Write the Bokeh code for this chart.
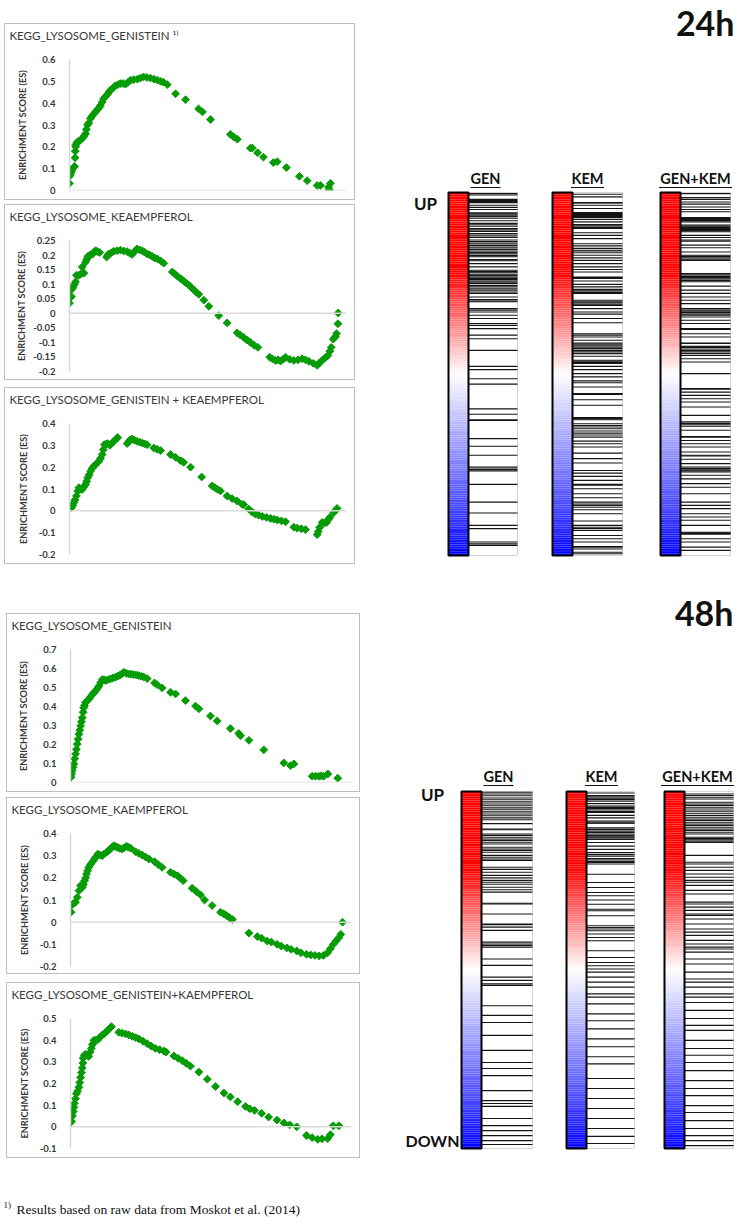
from bokeh.plotting import figure
from bokeh.layouts import column, row
from bokeh.models import Range1d, Span, FixedTicker, NumeralTickFormatter, Spacer
from bokeh.core.properties import value
from bokeh.embed import file_html
from bokeh.resources import INLINE

# ---------------- Enrichment-score curves: (rank in list %, ES) ----------------
gen24 = [(0, 0.033), (0.2, 0.068), (0.5, 0.08), (0.8, 0.09), (1.1, 0.1), (1.5, 0.105), (1.8, 0.11),
         (2.0, 0.15), (2.1, 0.18), (2.2, 0.2), (2.3, 0.21), (2.7, 0.22), (3.2, 0.225), (3.9, 0.23),
         (4.7, 0.24), (5.3, 0.25), (5.8, 0.26), (6.1, 0.28), (6.5, 0.3), (7.0, 0.31), (7.6, 0.33),
         (8.1, 0.34), (8.7, 0.35), (9.4, 0.36), (10.1, 0.37), (10.7, 0.38), (11.2, 0.39), (11.8, 0.405),
         (12.3, 0.42), (13.0, 0.43), (13.7, 0.44), (14.2, 0.45), (14.8, 0.46), (15.7, 0.47), (16.6, 0.48),
         (17.5, 0.485), (18.4, 0.49), (19.3, 0.49), (20.2, 0.487), (21.1, 0.495), (22.0, 0.505),
         (23.2, 0.508), (24.5, 0.51), (25.6, 0.515), (26.7, 0.52), (27.9, 0.518), (29.2, 0.515),
         (30.5, 0.51), (31.8, 0.505), (32.9, 0.5), (33.9, 0.496), (35.3, 0.485), (38.3, 0.443),
         (41.9, 0.416), (46.6, 0.374), (48.0, 0.36), (50.9, 0.325), (58.1, 0.257), (59.3, 0.245),
         (60.6, 0.235), (65.3, 0.194), (66.0, 0.195), (67.9, 0.173), (70.0, 0.153), (73.6, 0.128),
         (75.0, 0.132), (78.3, 0.105), (83.0, 0.065), (85.8, 0.045), (89.4, 0.023), (90.6, 0.023),
         (93.5, 0.015), (94.2, 0.033), (93.8, 0.004)]

kem24 = [(0, 0.035), (0.4, 0.08), (0.7, 0.057), (1.0, 0.085), (1.3, 0.091), (1.8, 0.1), (2.2, 0.108),
         (2.5, 0.131), (3.2, 0.13), (4.0, 0.134), (4.6, 0.159), (5.2, 0.138), (5.8, 0.176), (6.2, 0.185),
         (6.6, 0.195), (7.4, 0.2), (8.2, 0.202), (8.8, 0.21), (9.4, 0.215), (10.1, 0.212), (10.9, 0.209),
         (13.4, 0.193), (13.8, 0.2), (14.2, 0.204), (15.1, 0.208), (16.0, 0.213), (17.2, 0.215),
         (18.4, 0.217), (19.6, 0.214), (20.8, 0.212), (21.7, 0.207), (22.6, 0.202), (23.5, 0.212),
         (24.4, 0.221), (25.3, 0.218), (26.2, 0.215), (27.1, 0.21), (28.0, 0.204), (29.0, 0.2),
         (29.9, 0.195), (30.8, 0.19), (31.7, 0.187), (32.9, 0.18), (34.0, 0.172), (37.1, 0.142),
         (38.0, 0.135), (39.0, 0.127), (40.1, 0.119), (41.1, 0.112), (42.1, 0.104), (43.1, 0.097),
         (44.0, 0.088), (44.9, 0.08), (45.8, 0.072), (46.7, 0.065), (48.5, 0.045), (50.3, 0.024),
         (53.9, -0.008), (56.9, -0.033), (60.5, -0.067), (61.7, -0.075), (62.9, -0.083), (64.1, -0.092),
         (65.3, -0.1), (66.7, -0.11), (68.0, -0.117), (72.3, -0.151), (73.3, -0.157), (74.4, -0.162),
         (75.3, -0.16), (76.2, -0.164), (77.1, -0.158), (78.0, -0.151), (79.5, -0.158), (81.0, -0.162),
         (82.5, -0.16), (84.0, -0.156), (85.2, -0.16), (86.4, -0.165), (88.0, -0.172), (89.4, -0.179),
         (90.3, -0.17), (91.2, -0.162), (92.3, -0.153), (93.3, -0.145), (94.0, -0.13), (94.5, -0.117),
         (95.2, -0.089), (96.0, -0.08), (96.4, -0.07), (96.9, -0.036), (97.0, 0.001)]

genkem24 = [(0.7, 0.015), (1.2, 0.025), (1.6, 0.038), (2.0, 0.05), (2.5, 0.068), (3.0, 0.09), (3.4, 0.106),
            (4.0, 0.1), (4.6, 0.098), (5.2, 0.11), (5.8, 0.121), (6.2, 0.135), (6.6, 0.152), (7.1, 0.165),
            (7.6, 0.182), (8.2, 0.195), (8.8, 0.205), (9.7, 0.215), (10.6, 0.227), (11.2, 0.24),
            (11.8, 0.258), (12.2, 0.28), (12.6, 0.303), (13.2, 0.306), (13.8, 0.308), (14.6, 0.3),
            (15.4, 0.311), (16.0, 0.318), (16.6, 0.326), (17.0, 0.33), (17.4, 0.336), (20.8, 0.308),
            (21.5, 0.318), (22.0, 0.326), (22.6, 0.329), (23.5, 0.323), (24.4, 0.318), (25.3, 0.315),
            (26.2, 0.311), (27.1, 0.307), (28.0, 0.303), (30.4, 0.288), (31.6, 0.282), (32.9, 0.276),
            (36.5, 0.258), (38.3, 0.245), (40.1, 0.23), (41.2, 0.222), (43.7, 0.2), (47.7, 0.155),
            (51.5, 0.114), (52.5, 0.106), (53.5, 0.098), (54.5, 0.091), (56.9, 0.068), (58.7, 0.056),
            (60.5, 0.045), (62.3, 0.03), (62.9, 0.028), (64.7, 0.008), (65.9, -0.005), (67.1, -0.015),
            (68.3, -0.02), (69.6, -0.026), (71.1, -0.03), (72.6, -0.035), (73.8, -0.038), (75.0, -0.042),
            (76.5, -0.046), (78.0, -0.05), (81.0, -0.075), (82.2, -0.079), (83.7, -0.082), (85.2, -0.086),
            (89.4, -0.109), (89.8, -0.095), (90.3, -0.076), (91.2, -0.053), (92.0, -0.056), (92.8, -0.053),
            (93.4, -0.04), (94.0, -0.03), (95.4, -0.008), (96.0, 0.002), (96.6, 0.011)]

gen48 = [(0.2, 0.028), (0.4, 0.045), (0.6, 0.063), (0.9, 0.08), (1.2, 0.098), (1.5, 0.125), (1.8, 0.15),
         (2.1, 0.175), (2.4, 0.202), (2.7, 0.228), (3.0, 0.254), (3.3, 0.276), (3.6, 0.298), (3.9, 0.32),
         (4.2, 0.341), (4.5, 0.37), (4.7, 0.393), (5.0, 0.405), (5.3, 0.42), (5.9, 0.43), (6.5, 0.437),
         (7.1, 0.45), (7.7, 0.463), (8.3, 0.472), (8.9, 0.481), (9.5, 0.494), (10.1, 0.507), (10.7, 0.525),
         (11.3, 0.542), (11.9, 0.54), (12.5, 0.537), (13.3, 0.541), (14.2, 0.545), (15.1, 0.55),
         (16.0, 0.554), (16.8, 0.56), (17.5, 0.564), (18.3, 0.572), (19.0, 0.58), (19.9, 0.575),
         (20.7, 0.571), (21.6, 0.57), (22.5, 0.568), (23.4, 0.566), (24.3, 0.563), (25.2, 0.559),
         (26.1, 0.555), (27.3, 0.547), (29.9, 0.524), (30.8, 0.515), (32.6, 0.498), (35.6, 0.475),
         (37.4, 0.466), (40.9, 0.431), (44.5, 0.402), (45.7, 0.388), (49.8, 0.35), (52.2, 0.324),
         (56.9, 0.284), (59.9, 0.258), (60.5, 0.246), (63.5, 0.222), (68.8, 0.172), (75.9, 0.103),
         (78.3, 0.089), (79.5, 0.098), (86.0, 0.033), (87.2, 0.033), (88.4, 0.033), (89.2, 0.035),
         (90.1, 0.033), (91.6, 0.045), (95.1, 0.023)]

kem48 = [(0.2, 0.045), (0.6, 0.079), (1.2, 0.085), (1.8, 0.09), (2.4, 0.112), (3.0, 0.142), (3.6, 0.165),
         (4.2, 0.157), (4.6, 0.17), (5.0, 0.187), (5.4, 0.2), (5.7, 0.217), (6.1, 0.232), (6.5, 0.247),
         (7.1, 0.26), (7.7, 0.27), (8.3, 0.281), (8.9, 0.292), (9.7, 0.307), (10.5, 0.303), (11.3, 0.3),
         (12.0, 0.308), (12.8, 0.315), (13.5, 0.322), (14.2, 0.33), (14.8, 0.338), (15.4, 0.345),
         (16.1, 0.341), (16.8, 0.337), (17.5, 0.333), (18.3, 0.33), (19.1, 0.336), (19.9, 0.342),
         (20.6, 0.338), (21.4, 0.334), (23.1, 0.318), (24.3, 0.31), (25.5, 0.303), (26.7, 0.294),
         (27.9, 0.285), (29.9, 0.273), (31.2, 0.26), (32.6, 0.247), (35.6, 0.225), (36.8, 0.217),
         (38.0, 0.21), (39.0, 0.2), (40.1, 0.187), (43.3, 0.153), (44.8, 0.138), (46.3, 0.123),
         (47.7, 0.1), (50.4, 0.075), (53.4, 0.045), (54.5, 0.038), (55.5, 0.03), (56.6, 0.02),
         (57.6, 0.012), (63.5, -0.049), (66.5, -0.065), (68.0, -0.072), (70.0, -0.085), (71.5, -0.09),
         (73.5, -0.1), (75.0, -0.108), (77.0, -0.116), (78.5, -0.123), (80.5, -0.13), (82.0, -0.138),
         (84.0, -0.145), (85.5, -0.148), (87.0, -0.15), (88.5, -0.152), (90.0, -0.15), (91.5, -0.138),
         (92.5, -0.12), (93.5, -0.1), (94.5, -0.085), (95.5, -0.07), (96.2, -0.055), (96.8, 0.0)]

genkem48 = [(0.4, 0.024), (0.7, 0.05), (1.0, 0.071), (1.2, 0.09), (1.4, 0.109), (1.8, 0.13), (2.1, 0.153),
            (2.5, 0.165), (3.0, 0.183), (3.3, 0.205), (3.6, 0.228), (3.9, 0.25), (4.2, 0.272), (4.4, 0.295),
            (4.5, 0.317), (4.9, 0.33), (5.3, 0.335), (5.9, 0.33), (6.5, 0.325), (7.0, 0.345), (7.4, 0.362),
            (7.8, 0.38), (8.3, 0.399), (9.0, 0.4), (9.7, 0.402), (10.5, 0.413), (11.3, 0.424), (12.0, 0.43),
            (12.8, 0.439), (13.5, 0.448), (14.2, 0.458), (14.6, 0.462), (17.2, 0.436), (18.4, 0.432),
            (19.6, 0.429), (20.8, 0.424), (22.0, 0.418), (23.2, 0.412), (24.3, 0.406), (25.8, 0.395),
            (27.3, 0.384), (28.7, 0.373), (30.2, 0.362), (31.7, 0.356), (33.2, 0.35), (34.0, 0.345),
            (36.8, 0.327), (38.3, 0.316), (39.8, 0.305), (41.2, 0.293), (42.7, 0.28), (45.7, 0.253),
            (48.7, 0.22), (51.6, 0.186), (54.6, 0.156), (56.9, 0.138), (59.5, 0.116), (62.3, 0.094),
            (63.8, 0.083), (65.5, 0.076), (68.0, 0.0625), (70.5, 0.045), (73.5, 0.031), (76.0, 0.018),
            (78.0, 0.009), (80.5, 0.0), (84.0, -0.04), (86.0, -0.05), (88.0, -0.058), (89.5, -0.055),
            (91.5, -0.054), (92.5, -0.036), (93.5, 0.005), (95.5, 0.005)]

ticks_gen24 = [0, 0.1, 0.2, 0.3, 0.4, 0.5, 0.6]
ticks_kem24 = [-0.2, -0.15, -0.1, -0.05, 0, 0.05, 0.1, 0.15, 0.2, 0.25]
ticks_genkem24 = [-0.2, -0.1, 0, 0.1, 0.2, 0.3, 0.4]
ticks_gen48 = [0, 0.1, 0.2, 0.3, 0.4, 0.5, 0.6, 0.7]
ticks_kem48 = [-0.2, -0.1, 0, 0.1, 0.2, 0.3, 0.4]
ticks_genkem48 = [-0.1, 0, 0.1, 0.2, 0.3, 0.4, 0.5]

titles_24 = ["KEGG_LYSOSOME_GENISTEIN  \u00b9\u207e", "KEGG_LYSOSOME_KEAEMPFEROL",
             "KEGG_LYSOSOME_GENISTEIN  + KEAEMPFEROL"]
titles_48 = ["KEGG_LYSOSOME_GENISTEIN", "KEGG_LYSOSOME_KAEMPFEROL",
             "KEGG_LYSOSOME_GENISTEIN+KAEMPFEROL"]
note_mark = "1)"

# ---------------- Barcode hits: position of lysosomal genes in ranked list (%; 0 = UP) --------
hits_gen24 = [0.3, 0.7, 1.9, 2.2, 2.5, 2.8, 3.5, 4.1, 4.7, 5.6, 5.9, 6.2, 6.5, 6.7, 7.1, 7.8, 8.5, 8.9, 9.3,
              9.9, 10.3, 10.7, 11.3, 11.7, 12.0, 12.4, 13.1, 13.5, 13.9, 14.2, 14.6, 15.0, 15.3, 15.7, 16.1,
              16.5, 16.9, 17.4, 17.7, 18.5, 18.8, 19.6, 20.5, 21.4, 21.8, 22.1, 22.5, 22.9, 23.3, 23.7, 24.0,
              24.4, 24.7, 25.1, 25.6, 26.0, 26.5, 26.9, 27.4, 27.8, 28.8, 29.5, 29.9, 30.1, 32.0, 32.4, 32.9,
              33.8, 34.7, 36.1, 36.6, 37.5, 39.3, 40.3, 43.5, 47.9, 48.8, 51.3, 52.8, 59.6, 61.1, 62.6, 62.8,
              67.8, 69.9, 72.4, 75.6, 75.9, 76.3, 76.7, 80.4, 85.3, 88.3, 91.7, 92.6, 96.3, 96.8, 97.2]
hits_kem24 = [0.5, 1.2, 2.8, 2.9, 3.5, 4.4, 5.5, 5.8, 6.1, 6.3, 6.6, 6.9, 7.4, 8.1, 8.8, 9.2, 9.6, 9.9, 11.1,
              11.8, 12.7, 14.1, 14.7, 15.4, 15.9, 16.1, 16.6, 17.3, 18.0, 18.7, 19.6, 20.5, 21.2, 21.9, 23.3,
              23.4, 23.7, 24.4, 25.3, 26.0, 26.7, 27.1, 27.5, 27.8, 29.7, 30.1, 30.4, 30.8, 31.1, 32.0, 32.9,
              33.5, 34.7, 35.9, 38.9, 39.3, 39.8, 40.7, 41.5, 41.8, 42.2, 42.6, 43.0, 43.5, 43.9, 44.4, 45.1,
              46.2, 46.5, 46.8, 47.1, 47.9, 48.8, 49.9, 50.8, 51.9, 52.4, 53.6, 55.4, 55.6, 57.1, 58.6, 62.0,
              62.3, 62.6, 63.7, 64.2, 64.6, 65.1, 65.7, 66.3, 66.8, 67.4, 68.5, 69.2, 70.1, 71.8, 73.3, 74.5,
              76.6, 77.3, 78.2, 79.3, 80.4, 80.6, 81.6, 83.0, 84.1, 85.3, 85.8, 86.2, 86.7, 87.4, 88.5, 90.5,
              91.7, 92.2, 92.6, 93.1, 94.5, 95.4, 96.3, 97.5, 97.7, 98.2, 99.1, 99.5]
hits_genkem24 = [0.3, 1.4, 1.9, 2.6, 3.2, 4.0, 4.7, 5.3, 6.9, 7.2, 7.4, 7.7, 8.1, 9.0, 9.3, 9.6, 9.9, 10.2,
                 10.5, 10.8, 11.8, 12.4, 13.1, 13.4, 14.5, 15.2, 16.4, 17.3, 17.6, 18.0, 18.4, 18.7, 22.3,
                 22.7, 23.1, 23.4, 23.8, 24.2, 24.6, 25.8, 26.9, 27.8, 28.8, 29.7, 30.6, 32.0, 32.4, 32.7,
                 33.1, 33.5, 33.8, 34.3, 35.2, 36.1, 37.5, 37.7, 38.9, 39.8, 41.5, 41.6, 42.4, 42.7, 43.1,
                 43.5, 43.9, 44.4, 44.9, 45.8, 46.7, 49.9, 54.0, 54.2, 55.0, 55.9, 56.8, 57.7, 59.1, 61.4,
                 63.2, 63.6, 64.0, 64.4, 65.5, 67.2, 67.4, 68.3, 69.2, 70.1, 71.5, 72.4, 72.6, 73.5, 74.7,
                 75.6, 76.0, 76.4, 76.7, 77.0, 77.9, 78.9, 80.2, 81.2, 83.0, 85.3, 86.2, 87.1, 88.5, 89.4,
                 90.3, 91.7, 93.6, 93.8, 93.9, 94.1, 95.4, 96.3, 97.7, 98.6]
hits_gen48 = [0.2, 0.7, 1.2, 1.8, 2.3, 2.9, 3.5, 4.0, 4.6, 5.1, 5.7, 6.3, 6.8, 7.4, 7.9, 9.0, 10.5, 10.7, 11.9,
              12.3, 12.8, 13.3, 13.7, 14.2, 14.7, 15.6, 16.1, 16.5, 17.0, 17.9, 18.4, 18.9, 19.3, 21.2, 21.8,
              22.6, 23.5, 24.2, 24.9, 25.4, 26.0, 26.8, 27.5, 28.2, 31.3, 31.5, 34.3, 37.1, 37.3, 38.0, 38.9,
              42.2, 42.7, 43.1, 43.6, 46.9, 48.7, 52.0, 52.9, 53.9, 54.3, 60.0, 62.7, 64.7, 68.3, 72.5, 75.9,
              77.6, 79.6, 83.8, 86.6, 87.4, 88.2, 91.6, 93.6, 95.0, 96.4, 97.8, 98.9]
hits_kem48 = [0.4, 1.1, 1.5, 1.9, 2.2, 2.7, 3.4, 4.1, 4.5, 4.8, 5.2, 5.6, 5.9, 6.7, 7.4, 8.3, 8.8, 8.9, 10.2,
              10.6, 11.1, 11.5, 11.9, 12.3, 12.7, 13.0, 13.4, 14.3, 15.3, 16.2, 17.1, 17.6, 18.1, 18.8, 19.2,
              19.6, 19.9, 20.3, 23.2, 25.5, 26.9, 28.3, 29.2, 30.4, 31.6, 33.0, 33.4, 34.8, 37.6, 38.1, 38.5,
              39.0, 39.9, 40.9, 41.8, 44.6, 46.5, 47.9, 48.8, 49.7, 50.6, 52.0, 53.4, 54.8, 56.7, 57.6, 59.5,
              62.3, 64.2, 66.5, 69.3, 71.5, 74.3, 76.3, 80.4, 83.2, 86.0, 88.8, 91.6, 94.4, 96.6, 98.6]
hits_genkem48 = [0.7, 1.1, 1.6, 2.1, 3.0, 3.5, 3.9, 4.4, 4.9, 5.5, 6.1, 6.7, 7.2, 7.7, 8.1, 8.6, 9.1, 9.5,
                 10.0, 10.5, 10.9, 11.4, 11.9, 12.8, 13.2, 13.5, 13.9, 14.3, 17.9, 19.8, 20.3, 21.2, 22.1,
                 23.1, 24.0, 24.9, 25.4, 26.3, 27.7, 28.7, 31.0, 31.5, 32.4, 33.3, 34.3, 34.7, 35.7, 37.1,
                 38.5, 39.4, 40.3, 41.7, 42.7, 43.6, 44.1, 45.0, 46.9, 48.3, 50.6, 52.5, 53.4, 54.8, 56.7,
                 57.6, 59.1, 61.3, 63.6, 65.5, 66.9, 69.7, 72.0, 73.9, 75.9, 78.2, 81.0, 83.2, 85.2, 88.0,
                 89.9, 92.2, 94.4, 96.4, 97.8, 99.2]

bar_labels = ["GEN", "KEM", "GEN+KEM"]
footnote = "Results based on raw data from Moskot et al. (2014)"

# ---------------- styling ----------------
FONT = "Lato"
GREEN = "#069c06"
TXT = "#383838"


def es_chart(title, pts, ymin, ymax, ticks, box_w, box_h, fl, fr, ft, fb, lab_standoff):
    xs = [p[0] for p in pts]
    ys = [p[1] for p in pts]
    p = figure(width=box_w - 2, height=box_h - 2, output_backend="svg", toolbar_location=None,
               x_range=Range1d(0, 100), y_range=Range1d(ymin, ymax),
               min_border_left=fl - 1, min_border_right=fr - 1,
               min_border_top=ft - 1, min_border_bottom=fb - 1)
    # two-line title (second line blank) lifts the text towards the top of the box
    p.title.text = title + "\n "
    p.title.text_font = FONT
    p.title.text_font_size = "11.5px"
    p.title.text_font_style = "normal"
    p.title.text_color = TXT
    p.title.text_line_height = 1.2
    p.title.align = "left"
    p.title.vertical_align = "bottom"
    p.title.offset = -(fl - 1) + 4
    p.title.standoff = 4
    p.xaxis.visible = False
    p.grid.visible = False
    p.outline_line_color = None
    ax = p.yaxis[0]
    ax.ticker = FixedTicker(ticks=ticks)
    ax.formatter = NumeralTickFormatter(format="0.[00]")
    ax.axis_line_color = "#d9d9d9"
    ax.axis_line_width = 1.5
    ax.major_tick_line_color = None
    ax.minor_tick_line_color = None
    ax.major_label_text_font = FONT
    ax.major_label_text_font_style = "bold"
    ax.major_label_text_font_size = "9.5px"
    ax.major_label_text_color = TXT
    ax.major_label_standoff = 8
    ax.axis_label = "ENRICHMENT SCORE (ES)"
    ax.axis_label_text_font = FONT
    ax.axis_label_text_font_style = "bold"
    ax.axis_label_text_font_size = "9.2px"
    ax.axis_label_text_color = TXT
    ax.axis_label_standoff = lab_standoff
    p.add_layout(Span(location=0, dimension="width", line_color="#d9d9d9", line_width=1.5))
    p.scatter(xs, ys, marker="square", angle=0.7854, size=5.5,
              fill_color=GREEN, line_color=GREEN)
    return column(p, styles={"border": "1px solid #bfbfbf"})


def grad_color(t):
    if t < 0.22:
        r, g, b = 255, 0, 0
    elif t < 0.5:
        f = (t - 0.22) / 0.28
        r, g, b = 255, int(255 * f), int(255 * f)
    else:
        f = (t - 0.5) / 0.5
        r, g, b = int(255 * (1 - f)), int(255 * (1 - f)), 255
    return "#%02x%02x%02x" % (r, g, b)


def barcode_fig(w, h, bar_top, bar_bot, cols, hits, heading, head_x, head_y, lab_y, ul_y, up_xy,
                down_xy=None):
    ppr = (bar_bot - bar_top) / 100.0

    def r(ypx):
        return (ypx - bar_top) / ppr

    p = figure(width=w, height=h, output_backend="svg", toolbar_location=None,
               x_range=Range1d(0, w), y_range=Range1d(r(h), r(0)), min_border=0)
    p.axis.visible = False
    p.grid.visible = False
    p.outline_line_color = None
    n = 200
    g_top = [100.0 * k / n for k in range(n)]
    g_bot = [100.0 * (k + 1) / n for k in range(n)]
    g_col = [grad_color((k + 0.5) / n) for k in range(n)]
    for (cb_l, bc_l, bc_r, lab_x, ul_w), lab, hh in zip(cols, bar_labels, hits):
        p.quad(left=cb_l, right=cb_l + 20, top=g_top, bottom=g_bot, fill_color=g_col, line_color=None)
        p.quad(left=[bc_l], right=[bc_r], top=[0], bottom=[100], fill_color=None,
               line_color="#d4d4d4", line_width=1)
        p.segment(x0=bc_l, x1=bc_r, y0=hh, y1=hh, line_color="#151515", line_width=1.1)
        p.quad(left=[cb_l], right=[cb_l + 20], top=[0], bottom=[100], fill_color=None,
               line_color="black", line_width=2)
        p.text(x=[lab_x], y=[r(lab_y)], text=[lab], text_font=value(FONT), text_font_style="bold",
               text_font_size="14.5px", text_align="center", text_baseline="middle", text_color="#111111")
        p.segment(x0=[lab_x - ul_w / 2], x1=[lab_x + ul_w / 2], y0=[r(ul_y)], y1=[r(ul_y)],
                  line_color="#111111", line_width=1.2)
    p.text(x=[up_xy[0]], y=[r(up_xy[1])], text=["UP"], text_font=value(FONT), text_font_style="bold",
           text_font_size="17px", text_align="center", text_baseline="middle", text_color="#111111")
    if down_xy is not None:
        p.text(x=[down_xy[0]], y=[r(down_xy[1])], text=["DOWN"], text_font=value(FONT),
               text_font_style="bold", text_font_size="16px", text_align="center",
               text_baseline="middle", text_color="#111111")
    p.text(x=[head_x], y=[r(head_y)], text=[heading], text_font=value(FONT), text_font_style="bold",
           text_font_size="34px", text_align="right", text_baseline="middle", text_color="#111111")
    return p


# ---------------- 24 h ----------------
c1 = es_chart(titles_24[0], gen24, 0, 0.6, ticks_gen24, 351, 177, 65, 9, 34, 10, 11)
c2 = es_chart(titles_24[1], kem24, -0.2, 0.25, ticks_kem24, 351, 176, 65, 9, 34, 9, 3)
c3 = es_chart(titles_24[2], genkem24, -0.2, 0.4, ticks_genkem24, 351, 177, 65, 9, 35, 10, 7)
left24 = column(Spacer(height=23), c1, Spacer(height=4), c2, Spacer(height=7), c3, Spacer(height=26))

bc24 = barcode_fig(385, 590, 192, 555,
                   [(93, 113, 162, 130, 30), (197, 217, 267, 232, 33), (305, 325, 375, 340, 73)],
                   [hits_gen24, hits_kem24, hits_genkem24], "24h", 379, 22, 178, 187, (70, 203))

# ---------------- 48 h ----------------
c4 = es_chart(titles_48[0], gen48, 0, 0.7, ticks_gen48, 354, 179, 64, 9, 35, 10, 11)
c5 = es_chart(titles_48[1], kem48, -0.2, 0.4, ticks_kem48, 354, 177, 64, 9, 34, 8, 7)
c6 = es_chart(titles_48[2], genkem48, -0.1, 0.5, ticks_genkem48, 354, 176, 64, 9, 32, 10, 7)
left48 = column(Spacer(height=23), c4, Spacer(height=5), c5, Spacer(height=8), c6, Spacer(height=7))

bc48 = barcode_fig(380, 575, 201, 558,
                   [(101, 121, 172, 138, 30), (206, 226, 274, 241, 33), (304, 324, 373, 337, 73)],
                   [hits_gen48, hits_kem48, hits_genkem48], "48h", 373, 22, 186, 195, (72, 204), (72, 550))

# ---------------- footnote ----------------
fn = figure(width=740, height=59, output_backend="svg", toolbar_location=None,
            x_range=Range1d(0, 740), y_range=Range1d(0, 59), min_border=0)
fn.axis.visible = False
fn.grid.visible = False
fn.outline_line_color = None
fn.text(x=[3], y=[20], text=[note_mark], text_font=value("Liberation Serif"), text_font_size="9px",
        text_baseline="middle", text_color="#111111")
fn.text(x=[16], y=[15], text=[footnote], text_font=value("Liberation Serif"), text_font_size="13.5px",
        text_baseline="middle", text_color="#111111")

layout = column(row(Spacer(width=4), left24, bc24), row(Spacer(width=6), left48, bc48), fn)

open("out.html", "w").write(file_html(layout, INLINE))
